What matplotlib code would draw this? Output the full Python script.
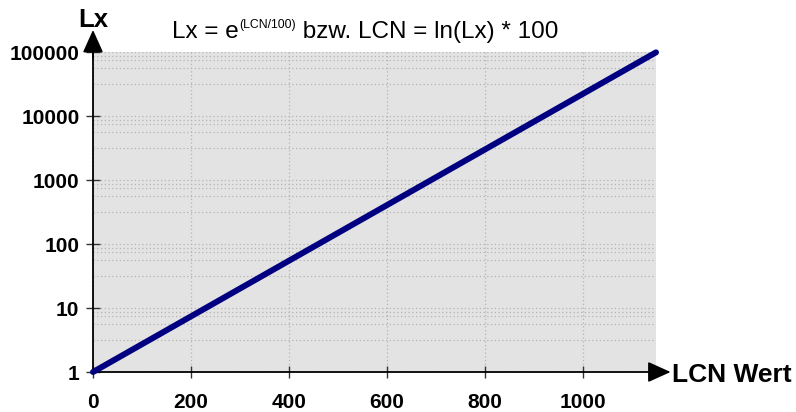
import matplotlib
matplotlib.use('Agg')
import matplotlib.pyplot as plt
import numpy as np
from matplotlib.ticker import FixedLocator, FuncFormatter

# data
lcn = [0, 1150]
lx = [1.0, 98715.8]   # e^(LCN/100) at the two ends, straight line on log axis
x_ticks = [0, 200, 400, 600, 800, 1000]
y_ticks = [1, 10, 100, 1000, 10000, 100000]
title_main = 'Lx = e'
title_sup = '(LCN/100)'
title_rest = ' bzw. LCN = ln(Lx) * 100'

plt.rcParams['font.family'] = ['Liberation Sans', 'DejaVu Sans']

fig = plt.figure(figsize=(7.96, 4.12), dpi=100)
ax = fig.add_axes([93/796, 40/412, 563/796, 320/412])
ax.set_facecolor('#e3e3e3')

ax.set_yscale('log')
ax.set_xlim(0, 1150)
ax.set_ylim(1, 100000)

# minor grid positions inside each decade (as seen in the picture)
minor_fracs = [0.5, 0.75, 0.875, 0.9375]
minor = [10 ** (k + f) for k in range(5) for f in minor_fracs]

ax.xaxis.set_major_locator(FixedLocator(x_ticks))
ax.yaxis.set_major_locator(FixedLocator(y_ticks))
ax.yaxis.set_minor_locator(FixedLocator(minor))
ax.xaxis.set_minor_locator(FixedLocator([]))
ax.yaxis.set_major_formatter(FuncFormatter(lambda v, p: '%d' % round(v)))
ax.yaxis.set_minor_formatter(FuncFormatter(lambda v, p: ''))

grid_kw = dict(color='#b4b4b4', linestyle=(0, (1, 2)), linewidth=0.9)
ax.grid(True, which='major', axis='both', **grid_kw)
ax.grid(True, which='minor', axis='y', **grid_kw)
ax.set_axisbelow(True)

for s in ['top', 'right']:
    ax.spines[s].set_visible(False)
for s in ['left', 'bottom']:
    ax.spines[s].set_linewidth(1.3)

ax.tick_params(axis='y', which='major', direction='inout', length=9.5, width=1,
               color='#333333', pad=5, labelsize=15)
ax.tick_params(axis='x', which='major', direction='inout', length=8, width=1,
               color='#333333', pad=11, labelsize=15)
ax.tick_params(which='minor', length=0)
for lab in ax.get_xticklabels() + ax.get_yticklabels():
    lab.set_fontweight('bold')

ax.plot(lcn, lx, color='#000080', linewidth=4.3, solid_capstyle='round',
        clip_on=False, zorder=5)

# axis arrows
arrow = dict(arrowstyle='-|>,head_length=1.0,head_width=0.45',
             color='black', lw=1.3, shrinkA=0, shrinkB=0, mutation_scale=14)
ax.annotate('', xy=(1.026, 0), xytext=(0.99, 0), xycoords='axes fraction',
            arrowprops=arrow)
ax.annotate('', xy=(0, 1.069), xytext=(0, 0.98), xycoords='axes fraction',
            arrowprops=arrow)

ax.text(0.0, 1.078, 'Lx', transform=ax.transAxes, ha='center', va='baseline',
        fontsize=18.5, fontweight='bold')
ax.text(1.028, -0.031, 'LCN Wert', transform=ax.transAxes, ha='left',
        va='baseline', fontsize=19, fontweight='bold')

# title: main text, small superscript, rest
fig.canvas.draw()
r = fig.canvas.get_renderer()
x0 = 172 / 796
yb = 1 - 38 / 412
t1 = fig.text(x0, yb, title_main, fontsize=17.5, va='baseline')
w1 = t1.get_window_extent(r).width / 796
t2 = fig.text(x0 + w1 + 1 / 796, yb + 10 / 412, title_sup, fontsize=8.8,
              va='baseline')
w2 = t2.get_window_extent(r).width / 796
fig.text(x0 + w1 + w2 + 1 / 796, yb, title_rest, fontsize=17.5, va='baseline')

fig.savefig('out.png', dpi=100)
